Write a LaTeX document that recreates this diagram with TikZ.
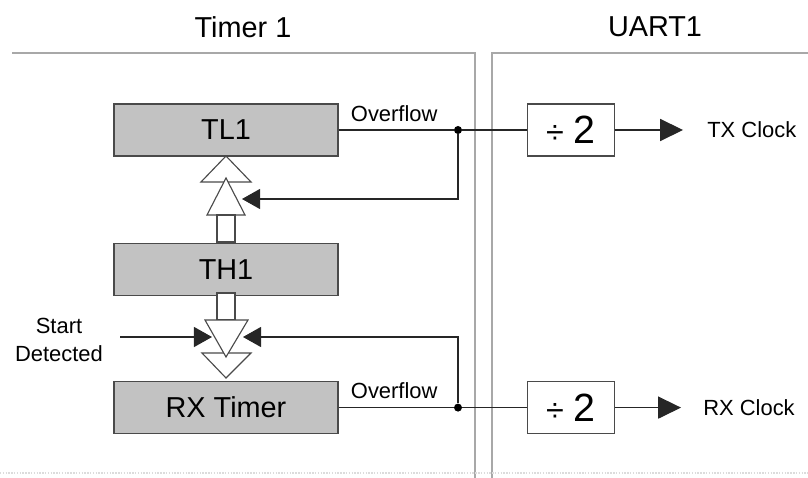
\documentclass[tikz,border=0pt]{standalone}
\usepackage{fontspec}
\setmainfont{Liberation Sans}
\usepackage{xcolor}
\usetikzlibrary{arrows.meta,positioning,calc}
\definecolor{RegGray}{HTML}{C2C2C2}
\definecolor{EdgeGray}{HTML}{4A4A4A}
\definecolor{PanelGray}{HTML}{A8A8A8}
\tikzset{
    % Register boxes of Timer 1
    register/.style={
        rectangle,
        draw=EdgeGray,
        line width=0.9pt,
        fill=RegGray,
        minimum width=5.6cm,
        minimum height=1.3cm,
        inner sep=0pt,
        font=\fontsize{20.5}{24}\selectfont
    },
    divider/.style={
        rectangle,
        draw=EdgeGray,
        line width=0.9pt,
        fill=white,
        minimum width=2.175cm,
        minimum height=1.3cm,
        inner sep=0pt,
        font=\fontsize{28}{32}\selectfont
    },
    signal/.style={
        inner sep=0pt,
        font=\fontsize{15.6}{19}\selectfont
    },
    title/.style={
        font=\fontsize{20.5}{24}\selectfont
    },
    wire/.style={
        draw=black!85,
        line width=0.8pt
    },
    arrow/.style={
        wire,
        -{Triangle[length=0.45cm, width=0.5cm]}
    },
    arrow out/.style={
        wire,
        -{Triangle[length=0.57cm, width=0.55cm]}
    },
    hollow/.style={
        draw=EdgeGray,
        fill=white,
        line width=0.8pt,
        line join=miter
    },
    panel/.style={
        draw=PanelGray,
        line width=1pt
    },
    junction/.style={
        circle,
        fill=black,
        inner sep=0pt,
        minimum size=0.2cm
    }
}

\begin{document}
\begin{tikzpicture}[x=0.025cm, y=-0.025cm]
    \useasboundingbox (0,0) rectangle (808,478);

    % Panels
    \draw[panel] (12,53) -- (475,53) -- (475,478);
    \draw[panel] (808,53) -- (492,53) -- (492,478);
    \draw[panel, draw=PanelGray!40, densely dotted] (0,473) -- (808,473);
    \node[title] (ttimer) at (243,27) {Timer 1};
    \node[title] (tuart) at (655,27) {UART1};

    % Timer 1 registers
    \node[register] (tl1) at (226,130) {TL1};
    \node[register, below=2.15cm of tl1] (th1) {TH1};
    \node[register, below=2.125cm of th1] (rxtimer) {RX Timer};

    % Reload arrows
    \filldraw[hollow] (226,156) -- (251,182) -- (201,182) -- cycle;
    \filldraw[hollow] (226,178) -- (245,215) -- (207,215) -- cycle;
    \filldraw[hollow] (217,215) rectangle (235,242);
    \filldraw[hollow] (217,293) rectangle (235,320);
    \filldraw[hollow] (202,353) -- (251,353) -- (226,378) -- cycle;
    \filldraw[hollow] (205,320) -- (248,320) -- (226,357) -- cycle;

    % UART1 dividers
    \node[divider, right=4.7cm of tl1] (txdiv)
          {{\fontsize{23}{26}\selectfont ÷}\hspace{7pt}2\hspace{9pt}};
    \node[divider, right=4.7cm of rxtimer] (rxdiv)
          {{\fontsize{23}{26}\selectfont ÷}\hspace{7pt}2\hspace{9pt}};
    \node[signal, right=2.3cm of txdiv] (txclk) {TX Clock};
    \node[signal, right=2.2cm of rxdiv] (rxclk) {RX Clock};

    % Overflow paths
    \node[junction] (tdot) at (458,130) {};
    \node[junction] (rdot) at (tdot |- rxtimer.east) {};
    \node[signal, anchor=base west] (tlovf) at ($(tl1.east)+(12,-8)$) {Overflow};
    \node[signal, anchor=base west] (rxovf) at ($(rxtimer.east)+(12,-9)$) {Overflow};
    \coordinate (tlload) at (242,199);
    \coordinate (rxloadl) at (212,337);
    \coordinate (rxloadr) at (243,337);
    \coordinate (startin) at (120,337);
    \node[signal, align=center] (start) at (59,340) {Start\\[1pt]Detected};

    \draw[wire] (tl1.east) -- (tdot) -- (txdiv.west);
    \draw[wire] (rxtimer.east) -- (rdot) -- (rxdiv.west);
    \draw[arrow] (tdot) |- (tlload);
    \draw[arrow] (rdot) |- (rxloadr);
    \draw[arrow] (startin) -- (rxloadl);
    \draw[arrow out, shorten >=0.6cm] (txdiv.east) -- (txclk.west);
    \draw[arrow out, shorten >=0.55cm] (rxdiv.east) -- (rxclk.west);
\end{tikzpicture}
\end{document}
